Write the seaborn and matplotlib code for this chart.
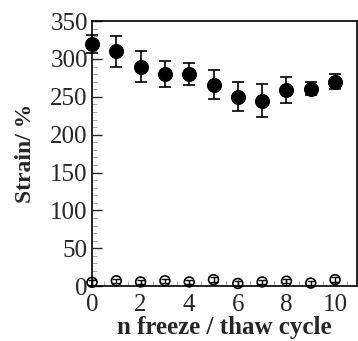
import matplotlib
matplotlib.use("Agg")
import matplotlib.pyplot as plt
import seaborn as sns
import pandas as pd
from matplotlib.ticker import MultipleLocator

cycles = [0, 1, 2, 3, 4, 5, 6, 7, 8, 9, 10]
strain_filled = [320, 310, 290, 280, 280, 266, 250, 245, 259, 261, 270]
err_filled = [12, 20, 21, 17, 15, 19, 19, 22, 17, 9, 10]
strain_open = [5, 7, 5.5, 7, 5.5, 8.5, 3.5, 5.5, 6.5, 4, 8.5]
err_open = [3, 3, 3, 3, 3, 3, 3, 3, 3, 3, 3]

sns.set_theme(style="ticks")
plt.rcParams['font.family'] = ['Liberation Serif', 'DejaVu Serif']

df_f = pd.DataFrame({"cycle": cycles, "strain": strain_filled, "err": err_filled})
df_o = pd.DataFrame({"cycle": cycles, "strain": strain_open, "err": err_open})

fig = plt.figure(figsize=(3.58, 3.41), dpi=100)
ax = fig.add_axes([0.257, 0.161, 0.74, 0.777])

ax.errorbar(df_f["cycle"], df_f["strain"], yerr=df_f["err"], fmt="none",
            ecolor="black", elinewidth=1.2, capsize=4, capthick=1.2, clip_on=False, zorder=2)
sns.scatterplot(data=df_f, x="cycle", y="strain", ax=ax, color="black", s=100,
                edgecolor="black", linewidth=0.8, clip_on=False, zorder=3, legend=False)

ax.errorbar(df_o["cycle"], df_o["strain"], yerr=df_o["err"], fmt="none",
            ecolor="black", elinewidth=1.0, capsize=3, capthick=1.0, clip_on=False, zorder=4)
sns.scatterplot(data=df_o, x="cycle", y="strain", ax=ax, facecolor="none", s=50,
                edgecolor="black", linewidth=1.2, clip_on=False, zorder=5, legend=False)

ax.set_xlim(0, 10.9)
ax.set_ylim(0, 350)
ax.xaxis.set_major_locator(MultipleLocator(2))
ax.xaxis.set_minor_locator(MultipleLocator(0.5))
ax.yaxis.set_major_locator(MultipleLocator(50))
ax.yaxis.set_minor_locator(MultipleLocator(10))
ax.tick_params(which="major", direction="in", length=7, width=1, labelsize=18)
ax.tick_params(which="minor", direction="in", length=3.5, width=0.6, color="#999999")
ax.tick_params(axis="x", which="major", length=4, pad=6)
ax.tick_params(axis="y", which="major", pad=3)

for s in ax.spines.values():
    s.set_linewidth(1.2)
    s.set_color("black")

ax.set_xlabel("n freeze / thaw cycle", fontsize=18, fontweight="bold", labelpad=0)
ax.set_ylabel("Strain/ %", fontsize=17, fontweight="bold", labelpad=10)

fig.savefig("out.png", dpi=100)
